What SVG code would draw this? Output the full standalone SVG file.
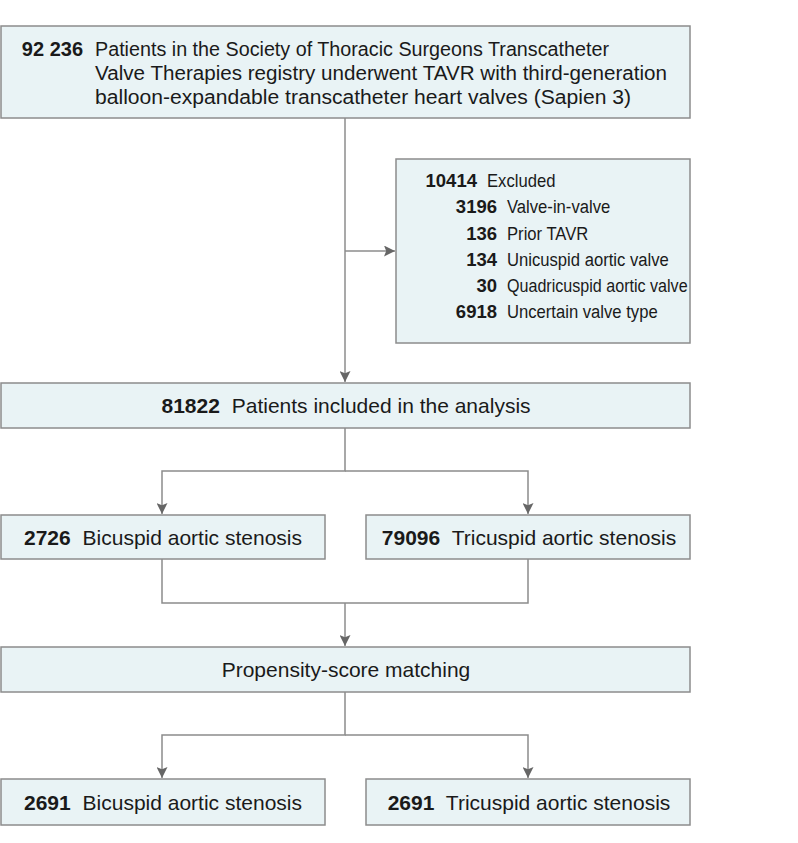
<svg xmlns="http://www.w3.org/2000/svg" width="798" height="843" viewBox="0 0 798 843">
<defs>
<style>
.box{fill:#e9f3f5;stroke:#8c8c8c;stroke-width:1.5}
.ln{fill:none;stroke:#8c8c8c;stroke-width:1.5}
text{font-family:"Liberation Sans",Arial,sans-serif;font-size:21px;fill:#1a1a1a}
.t{font-size:20px}
.x{font-size:18.5px}
.b{font-weight:bold}
.c{text-anchor:middle}
.r{text-anchor:end}
</style>
<marker id="ah" viewBox="0 0 10 10" refX="10" refY="5" markerWidth="11" markerHeight="11" markerUnits="userSpaceOnUse" orient="auto">
<path d="M0,0 L10,5 L0,10 L2,5 Z" fill="#666"/>
</marker>
</defs>
<rect width="798" height="843" fill="#fff"/>
<g id="connectors">
<path class="ln" d="M345,118 V382" marker-end="url(#ah)"/>
<path class="ln" d="M345,251 H395" marker-end="url(#ah)"/>
<path class="ln" d="M345,428 V471 H162 V514" marker-end="url(#ah)"/>
<path class="ln" d="M345,471 H528 V514" marker-end="url(#ah)"/>
<path class="ln" d="M162,559 V603 H528 V559"/>
<path class="ln" d="M345,603 V646" marker-end="url(#ah)"/>
<path class="ln" d="M345,692 V735 H162 V778" marker-end="url(#ah)"/>
<path class="ln" d="M345,735 H528 V778" marker-end="url(#ah)"/>
</g>
<g id="n_total">
<rect class="box" x="1" y="26" width="689" height="92"/>
<text class="t b r" x="83" y="56">92 236</text>
<text class="t" x="95" y="56" textLength="514" lengthAdjust="spacingAndGlyphs">Patients in the Society of Thoracic Surgeons Transcatheter</text>
<text class="t" x="95" y="80" textLength="572" lengthAdjust="spacingAndGlyphs">Valve Therapies registry underwent TAVR with third-generation</text>
<text class="t" x="95" y="104" textLength="536" lengthAdjust="spacingAndGlyphs">balloon-expandable transcatheter heart valves (Sapien 3)</text>
</g>
<g id="n_excluded">
<rect class="box" x="396" y="159" width="294" height="184"/>
<text class="x b r" x="477" y="187">10414</text>
<text class="x" transform="translate(487,187) scale(0.9,1)">Excluded</text>
<text class="x b r" x="497" y="213">3196</text>
<text class="x" transform="translate(507,213) scale(0.9,1)">Valve-in-valve</text>
<text class="x b r" x="497" y="240">136</text>
<text class="x" transform="translate(507,240) scale(0.9,1)">Prior TAVR</text>
<text class="x b r" x="497" y="266">134</text>
<text class="x" transform="translate(507,266) scale(0.9,1)">Unicuspid aortic valve</text>
<text class="x b r" x="497" y="292">30</text>
<text class="x" transform="translate(507,292) scale(0.87,1)">Quadricuspid aortic valve</text>
<text class="x b r" x="497" y="318">6918</text>
<text class="x" transform="translate(507,318) scale(0.9,1)">Uncertain valve type</text>
</g>
<g id="n_included">
<rect class="box" x="1" y="383" width="689" height="45"/>
<text class="c" x="346" y="413"><tspan class="b">81822</tspan><tspan dx="6"> Patients included in the analysis</tspan></text>
</g>
<g id="n_bicuspid">
<rect class="box" x="1" y="515" width="324" height="44"/>
<text class="c" x="163" y="545"><tspan class="b">2726</tspan><tspan dx="6"> Bicuspid aortic stenosis</tspan></text>
</g>
<g id="n_tricuspid">
<rect class="box" x="366" y="515" width="324" height="44"/>
<text class="c" x="529" y="545"><tspan class="b">79096</tspan><tspan dx="6"> Tricuspid aortic stenosis</tspan></text>
</g>
<g id="n_psm">
<rect class="box" x="1" y="647" width="689" height="45"/>
<text class="c" x="346" y="677">Propensity-score matching</text>
</g>
<g id="n_bicuspid_m">
<rect class="box" x="1" y="779" width="324" height="46"/>
<text class="c" x="163" y="810"><tspan class="b">2691</tspan><tspan dx="6"> Bicuspid aortic stenosis</tspan></text>
</g>
<g id="n_tricuspid_m">
<rect class="box" x="366" y="779" width="324" height="46"/>
<text class="c" x="529" y="810"><tspan class="b">2691</tspan><tspan dx="6"> Tricuspid aortic stenosis</tspan></text>
</g>
</svg>
